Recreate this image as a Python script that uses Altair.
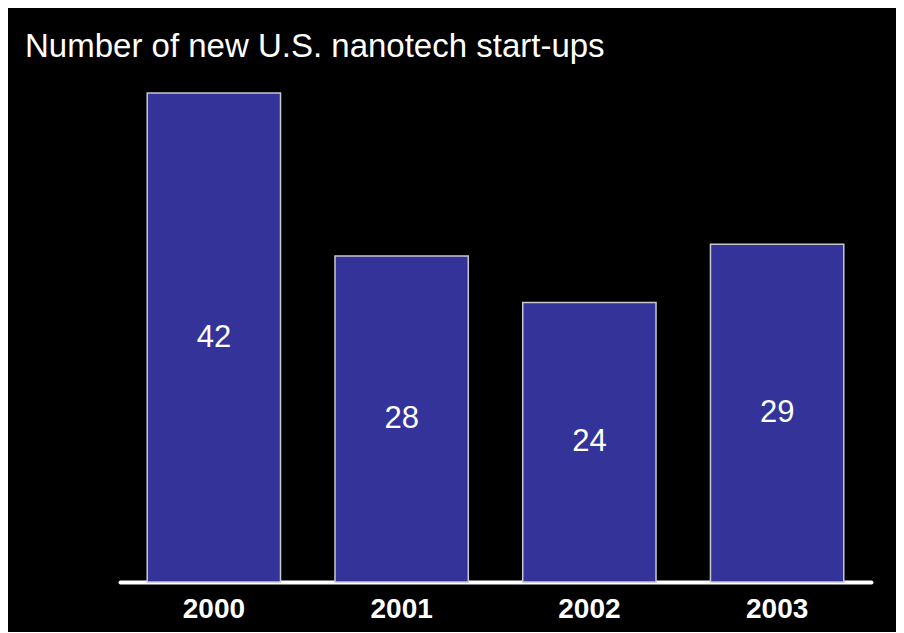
import altair as alt
import pandas as pd

years = ["2000", "2001", "2002", "2003"]
startups = [42, 28, 24, 29]

df = pd.DataFrame({"year": years, "count": startups})

base = alt.Chart(df).encode(
    x=alt.X("year:N", sort=years, title=None,
            scale=alt.Scale(paddingInner=0.29, paddingOuter=0.145),
            axis=alt.Axis(labelAngle=0, labelFontSize=28, labelFontWeight="bold",
                          labelColor="white", labelFont="Liberation Sans",
                          domainColor="white", domainWidth=4, domainCap="round",
                          ticks=False, labelPadding=13, grid=False)),
)

bars = base.mark_bar(color="#333399", stroke="#c8c8d0", strokeWidth=1.5).encode(
    y=alt.Y("count:Q", scale=alt.Scale(domain=[0, 42], nice=False), axis=None),
)

labels = base.transform_calculate(mid="datum.count / 2").mark_text(
    color="white", fontSize=31, font="Liberation Sans", baseline="middle"
).encode(
    y=alt.Y("mid:Q", scale=alt.Scale(domain=[0, 42], nice=False), axis=None),
    text=alt.Text("count:Q"),
)

chart = (bars + labels).properties(
    width=751,
    height=489,
    background="black",
    padding={"left": 112, "top": 85, "right": 25, "bottom": 50},
    autosize=alt.AutoSizeParams(type="none"),
    title=alt.TitleParams(
        "Number of new U.S. nanotech start-ups",
        anchor="start", frame="group", dx=-95, dy=9, offset=11,
        baseline="alphabetic", color="white", fontSize=33,
        font="Liberation Sans", fontWeight="normal",
    ),
).configure_view(stroke=None)

chart.save("out.html", embed_options={"renderer": "svg", "actions": False})
